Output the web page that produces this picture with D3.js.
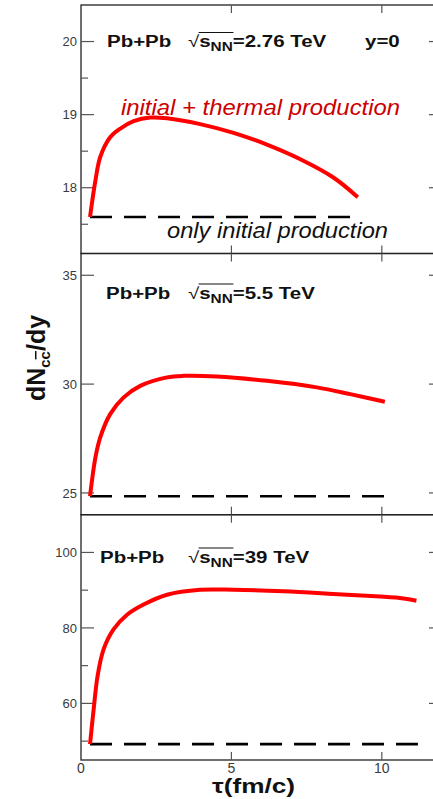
<!DOCTYPE html>
<html>
<head>
<meta charset="utf-8">
<script src="https://cdn.jsdelivr.net/npm/d3@7"></script>
<style>
  html, body { margin: 0; padding: 0; background: #fff; }
  svg { display: block; font-family: "Liberation Sans", Arial, sans-serif; }
</style>
</head>
<body>
<div id="chart"></div>
<script>
// proper time axis (fm/c)
const tauDomain = [0, 12];
const tauTicks = [0, 5, 10];

// panel titles
const energies = ['2.76', '5.5', '39'];

// initial + thermal production, one series per energy
const tauA = [0.3, 0.48, 0.64, 0.97, 1.31, 1.75, 2.3, 2.86, 3.96, 5.07, 6.18, 7.29, 8.39, 9.2];
const dNA = [17.6, 18.1, 18.42, 18.69, 18.81, 18.91, 18.96, 18.95, 18.87, 18.75, 18.59, 18.39, 18.14, 17.87];

const tauB = [0.3, 0.48, 0.64, 0.97, 1.41, 1.97, 2.86, 3.41, 4.52, 6.18, 7.84, 8.95, 10.1];
const dNB = [24.85, 26.63, 27.55, 28.62, 29.38, 29.92, 30.31, 30.38, 30.35, 30.15, 29.85, 29.54, 29.19];

const tauC = [0.3, 0.42, 0.55, 0.75, 1.08, 1.53, 2.08, 2.86, 3.96, 5.07, 6.73, 8.39, 9.5, 10.6, 11.15];
const dNC = [49.2, 58.4, 67.2, 74.3, 79.6, 83.5, 86.2, 88.8, 90.1, 90.1, 89.7, 89.0, 88.5, 87.9, 87.2];

// only initial production (flat)
const initialValue = [17.6, 24.85, 49.2];
const initialRange = [[0.3, 9.2], [0.3, 10.1], [0.3, 11.2]];

// y axes
const yDomains = [[17.1, 20.5], [24, 36], [45, 110]];
const yMajor = [[18, 19, 20], [25, 30, 35], [60, 80, 100]];
const yMinor = [[17.5, 18.5, 19.5], [], [50, 70, 90]];

const W = 433, H = 799;
const left = 81, right = 442;
const bands = [[5, 253.5], [253.5, 514.7], [514.7, 760]];

const svg = d3.select('#chart').append('svg')
  .attr('width', W)
  .attr('height', H)
  .attr('viewBox', [0, 0, W, H]);

const x = d3.scaleLinear().domain(tauDomain).range([left, right]);

const series = [
  { tau: tauA, dN: dNA },
  { tau: tauB, dN: dNB },
  { tau: tauC, dN: dNC }
];

const frameColor = '#222';
const tickColor = '#555';
const labelColor = '#3a3a3a';

bands.forEach(([top, bottom], i) => {
  const y = d3.scaleLinear().domain(yDomains[i]).range([bottom, top]);
  const g = svg.append('g');

  // frame
  g.append('rect')
    .attr('x', left).attr('y', top)
    .attr('width', right - left).attr('height', bottom - top)
    .attr('fill', 'none')
    .attr('stroke', frameColor)
    .attr('stroke-width', 1.3);

  // y ticks left / right (inward)
  const yTicks = yMajor[i].map(v => ({ v, len: 13 })).concat(yMinor[i].map(v => ({ v, len: 7 })));
  g.selectAll('.ytl').data(yTicks).join('line')
    .attr('x1', left).attr('x2', d => left + d.len)
    .attr('y1', d => y(d.v)).attr('y2', d => y(d.v))
    .attr('stroke', tickColor).attr('stroke-width', 1.2);
  g.selectAll('.ytr').data(yTicks).join('line')
    .attr('x1', right).attr('x2', d => right - d.len)
    .attr('y1', d => y(d.v)).attr('y2', d => y(d.v))
    .attr('stroke', tickColor).attr('stroke-width', 1.2);

  // y tick labels
  g.selectAll('.ylab').data(yMajor[i]).join('text')
    .attr('x', left - 4)
    .attr('y', d => y(d))
    .attr('dy', '0.36em')
    .attr('text-anchor', 'end')
    .attr('font-size', 13)
    .attr('fill', labelColor)
    .text(d => d);

  // x ticks top / bottom (inward)
  const xt = tauTicks.filter(t => t > 0);
  g.selectAll('.xtt').data(xt).join('line')
    .attr('x1', d => x(d)).attr('x2', d => x(d))
    .attr('y1', top).attr('y2', top + 8)
    .attr('stroke', tickColor).attr('stroke-width', 1.2);
  g.selectAll('.xtb').data(xt).join('line')
    .attr('x1', d => x(d)).attr('x2', d => x(d))
    .attr('y1', bottom).attr('y2', bottom - 8)
    .attr('stroke', tickColor).attr('stroke-width', 1.2);

  // only initial production (dashed)
  g.append('line')
    .attr('x1', x(initialRange[i][0])).attr('x2', x(initialRange[i][1]))
    .attr('y1', y(initialValue[i])).attr('y2', y(initialValue[i]))
    .attr('stroke', '#000')
    .attr('stroke-width', 2.6)
    .attr('stroke-dasharray', '22,12');

  // initial + thermal production
  const s = series[i];
  const line = d3.line()
    .x((d, k) => x(s.tau[k]))
    .y(d => y(d))
    .curve(d3.curveCatmullRom.alpha(0.5));
  g.append('path')
    .attr('d', line(s.dN))
    .attr('fill', 'none')
    .attr('stroke', '#ff0000')
    .attr('stroke-width', 4)
    .attr('stroke-linejoin', 'round');
});

// panel titles (the original lettering is wide, so stretch it horizontally)
const stretch = 1.28;
const titlePos = [[107, 47], [106, 298.5], [100, 562.5]];
titlePos.forEach(([tx, ty], i) => {
  const g = svg.append('g').attr('transform', `translate(${tx},${ty}) scale(${stretch},1)`);
  const t = g.append('text')
    .attr('font-size', 16)
    .attr('font-weight', 'bold')
    .attr('fill', '#111');
  t.append('tspan').text('Pb+Pb');
  t.append('tspan').attr('x', (188 - tx) / stretch).attr('font-weight', 'normal').text('\u221A');
  t.append('tspan').text('s');
  t.append('tspan').attr('font-size', 12).attr('dy', 4).text('NN');
  t.append('tspan').attr('dy', -4).text('=' + energies[i] + ' TeV');

  // radical bar over s_NN
  const n = t.node();
  const start = n.getEndPositionOfChar(5);
  const endNN = n.getEndPositionOfChar(8);
  g.append('line')
    .attr('x1', start.x - 0.5).attr('x2', endNN.x + 0.5)
    .attr('y1', -14.5).attr('y2', -14.5)
    .attr('stroke', '#111').attr('stroke-width', 1.1);
});

svg.append('g')
  .attr('transform', `translate(365,47) scale(${stretch},1)`)
  .append('text')
  .attr('font-size', 16)
  .attr('font-weight', 'bold')
  .attr('fill', '#111')
  .text('y=0');

// curve annotations
svg.append('text')
  .attr('x', 121).attr('y', 115)
  .attr('font-size', 22)
  .attr('font-style', 'italic')
  .attr('fill', '#cc0000')
  .attr('textLength', 279)
  .attr('lengthAdjust', 'spacingAndGlyphs')
  .text('initial + thermal production');

svg.append('text')
  .attr('x', 167).attr('y', 238)
  .attr('font-size', 22)
  .attr('font-style', 'italic')
  .attr('fill', '#111')
  .attr('textLength', 221)
  .attr('lengthAdjust', 'spacingAndGlyphs')
  .text('only initial production');

// x tick labels (bottom panel only)
svg.selectAll('.xlab').data(tauTicks).join('text')
  .attr('x', d => x(d))
  .attr('y', 773)
  .attr('text-anchor', 'middle')
  .attr('font-size', 14)
  .attr('fill', labelColor)
  .text(d => d);

// axis titles
svg.append('text')
  .attr('x', 212).attr('y', 793)
  .attr('font-size', 20)
  .attr('font-weight', 'bold')
  .attr('fill', '#111')
  .attr('textLength', 83)
  .attr('lengthAdjust', 'spacingAndGlyphs')
  .text('\u03C4(fm/c)');

const yl = svg.append('text')
  .attr('transform', 'translate(45,358) rotate(-90)')
  .attr('text-anchor', 'middle')
  .attr('font-size', 25)
  .attr('font-weight', 'bold')
  .attr('fill', '#111');
yl.append('tspan').text('dN');
yl.append('tspan').attr('font-size', 15).attr('dy', 5).text('c');
yl.append('tspan').attr('font-size', 15).style('text-decoration', 'overline').text('c');
yl.append('tspan').attr('dy', -5).text('/dy');
</script>
</body>
</html>
